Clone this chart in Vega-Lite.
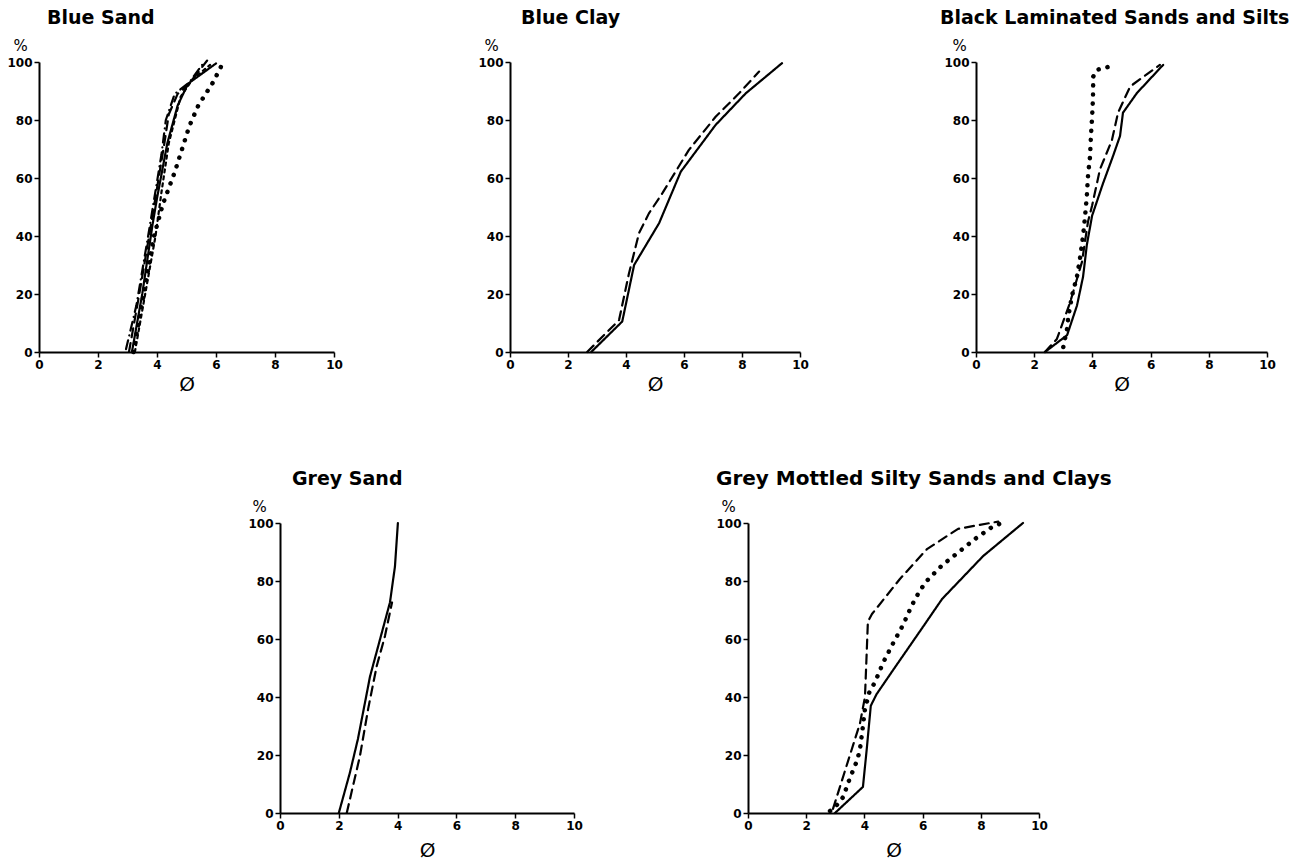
{
  "$schema": "https://vega.github.io/schema/vega-lite/v6.json",
  "background": "white",
  "padding": {"left": 6, "top": 9, "right": 5, "bottom": 5},
  "config": {
    "view": {"stroke": null},
    "axis": {"grid": false, "domainColor": "black", "domainWidth": 2, "tickColor": "black", "tickWidth": 1.5, "tickSize": 5, "labelFont": "DejaVu Sans", "labelFontWeight": "bold", "labelFontSize": 12, "labelColor": "black", "labelPadding": 2, "labelFlush": false, "titleColor": "black", "titleFont": "DejaVu Sans", "titleFontWeight": "normal"},
    "axisX": {"titleFontSize": 20, "titleBaseline": "alphabetic", "titleY": 38},
    "axisY": {"titleAngle": 0, "titleFontSize": 15, "titleX": -19, "titleY": -17, "titleAlign": "center", "titleBaseline": "middle"},
    "title": {"font": "DejaVu Sans", "fontSize": 19, "fontWeight": "bold", "anchor": "start", "frame": "group", "color": "black", "baseline": "alphabetic", "offset": 10},
    "line": {"color": "black", "strokeCap": "round", "strokeJoin": "round", "strokeWidth": 2.2}
  },
  "datasets": {
    "curves": [
      {"panel": "Blue Sand", "series": "s1", "phi": 3.15, "pct": 0},
      {"panel": "Blue Sand", "series": "s1", "phi": 3.5, "pct": 20},
      {"panel": "Blue Sand", "series": "s1", "phi": 3.85, "pct": 44},
      {"panel": "Blue Sand", "series": "s1", "phi": 4.0, "pct": 53},
      {"panel": "Blue Sand", "series": "s1", "phi": 4.35, "pct": 72},
      {"panel": "Blue Sand", "series": "s1", "phi": 4.7, "pct": 85},
      {"panel": "Blue Sand", "series": "s1", "phi": 5.05, "pct": 92.5},
      {"panel": "Blue Sand", "series": "s1", "phi": 6.0, "pct": 99.5},
      {"panel": "Blue Sand", "series": "s2", "phi": 3.05, "pct": 0},
      {"panel": "Blue Sand", "series": "s2", "phi": 3.4, "pct": 20},
      {"panel": "Blue Sand", "series": "s2", "phi": 3.8, "pct": 44},
      {"panel": "Blue Sand", "series": "s2", "phi": 4.25, "pct": 72},
      {"panel": "Blue Sand", "series": "s2", "phi": 4.4, "pct": 82},
      {"panel": "Blue Sand", "series": "s2", "phi": 4.7, "pct": 89},
      {"panel": "Blue Sand", "series": "s2", "phi": 5.05, "pct": 92},
      {"panel": "Blue Sand", "series": "s2", "phi": 5.7, "pct": 100.5},
      {"panel": "Blue Sand", "series": "s3", "phi": 3.2, "pct": 0},
      {"panel": "Blue Sand", "series": "s3", "phi": 3.55, "pct": 20},
      {"panel": "Blue Sand", "series": "s3", "phi": 3.9, "pct": 40},
      {"panel": "Blue Sand", "series": "s3", "phi": 4.2, "pct": 51},
      {"panel": "Blue Sand", "series": "s3", "phi": 4.6, "pct": 62},
      {"panel": "Blue Sand", "series": "s3", "phi": 5.1, "pct": 78},
      {"panel": "Blue Sand", "series": "s3", "phi": 5.4, "pct": 85},
      {"panel": "Blue Sand", "series": "s3", "phi": 5.9, "pct": 93},
      {"panel": "Blue Sand", "series": "s3", "phi": 6.2, "pct": 99},
      {"panel": "Blue Sand", "series": "s4", "phi": 2.95, "pct": 1},
      {"panel": "Blue Sand", "series": "s4", "phi": 3.3, "pct": 16},
      {"panel": "Blue Sand", "series": "s4", "phi": 3.7, "pct": 40},
      {"panel": "Blue Sand", "series": "s4", "phi": 4.15, "pct": 68},
      {"panel": "Blue Sand", "series": "s4", "phi": 4.3, "pct": 80},
      {"panel": "Blue Sand", "series": "s4", "phi": 4.6, "pct": 89},
      {"panel": "Blue Sand", "series": "s4", "phi": 5.1, "pct": 93},
      {"panel": "Blue Sand", "series": "s4", "phi": 5.6, "pct": 100},
      {"panel": "Blue Sand", "series": "s5", "phi": 3.25, "pct": 0},
      {"panel": "Blue Sand", "series": "s5", "phi": 3.6, "pct": 20},
      {"panel": "Blue Sand", "series": "s5", "phi": 3.95, "pct": 40},
      {"panel": "Blue Sand", "series": "s5", "phi": 4.15, "pct": 55},
      {"panel": "Blue Sand", "series": "s5", "phi": 4.4, "pct": 72},
      {"panel": "Blue Sand", "series": "s5", "phi": 4.8, "pct": 88},
      {"panel": "Blue Sand", "series": "s5", "phi": 5.2, "pct": 94},
      {"panel": "Blue Sand", "series": "s5", "phi": 5.8, "pct": 99},

      {"panel": "Blue Clay", "series": "s1", "phi": 2.8, "pct": 0},
      {"panel": "Blue Clay", "series": "s1", "phi": 3.87, "pct": 10.5},
      {"panel": "Blue Clay", "series": "s1", "phi": 4.28, "pct": 30},
      {"panel": "Blue Clay", "series": "s1", "phi": 5.14, "pct": 44.4},
      {"panel": "Blue Clay", "series": "s1", "phi": 5.89, "pct": 62.2},
      {"panel": "Blue Clay", "series": "s1", "phi": 7.09, "pct": 78.3},
      {"panel": "Blue Clay", "series": "s1", "phi": 8.13, "pct": 89.2},
      {"panel": "Blue Clay", "series": "s1", "phi": 9.38, "pct": 99.6},
      {"panel": "Blue Clay", "series": "s2", "phi": 2.66, "pct": 0},
      {"panel": "Blue Clay", "series": "s2", "phi": 3.76, "pct": 11},
      {"panel": "Blue Clay", "series": "s2", "phi": 4.1, "pct": 27},
      {"panel": "Blue Clay", "series": "s2", "phi": 4.45, "pct": 41},
      {"panel": "Blue Clay", "series": "s2", "phi": 4.79, "pct": 47.8},
      {"panel": "Blue Clay", "series": "s2", "phi": 5.25, "pct": 54.7},
      {"panel": "Blue Clay", "series": "s2", "phi": 6.17, "pct": 69.7},
      {"panel": "Blue Clay", "series": "s2", "phi": 7.09, "pct": 81.1},
      {"panel": "Blue Clay", "series": "s2", "phi": 7.9, "pct": 89.2},
      {"panel": "Blue Clay", "series": "s2", "phi": 8.59, "pct": 96.7},

      {"panel": "Black Laminated Sands and Silts", "series": "s1", "phi": 2.37, "pct": 0},
      {"panel": "Black Laminated Sands and Silts", "series": "s1", "phi": 3.13, "pct": 5.8},
      {"panel": "Black Laminated Sands and Silts", "series": "s1", "phi": 3.47, "pct": 16},
      {"panel": "Black Laminated Sands and Silts", "series": "s1", "phi": 3.68, "pct": 26},
      {"panel": "Black Laminated Sands and Silts", "series": "s1", "phi": 3.81, "pct": 37},
      {"panel": "Black Laminated Sands and Silts", "series": "s1", "phi": 3.99, "pct": 47},
      {"panel": "Black Laminated Sands and Silts", "series": "s1", "phi": 4.36, "pct": 58},
      {"panel": "Black Laminated Sands and Silts", "series": "s1", "phi": 4.71, "pct": 67.6},
      {"panel": "Black Laminated Sands and Silts", "series": "s1", "phi": 4.95, "pct": 74.5},
      {"panel": "Black Laminated Sands and Silts", "series": "s1", "phi": 5.05, "pct": 82.5},
      {"panel": "Black Laminated Sands and Silts", "series": "s1", "phi": 5.53, "pct": 89.3},
      {"panel": "Black Laminated Sands and Silts", "series": "s1", "phi": 6.43, "pct": 99},
      {"panel": "Black Laminated Sands and Silts", "series": "s2", "phi": 2.37, "pct": 0},
      {"panel": "Black Laminated Sands and Silts", "series": "s2", "phi": 2.78, "pct": 4.5},
      {"panel": "Black Laminated Sands and Silts", "series": "s2", "phi": 3.23, "pct": 17},
      {"panel": "Black Laminated Sands and Silts", "series": "s2", "phi": 3.64, "pct": 31},
      {"panel": "Black Laminated Sands and Silts", "series": "s2", "phi": 3.85, "pct": 45},
      {"panel": "Black Laminated Sands and Silts", "series": "s2", "phi": 3.99, "pct": 50.5},
      {"panel": "Black Laminated Sands and Silts", "series": "s2", "phi": 4.26, "pct": 63},
      {"panel": "Black Laminated Sands and Silts", "series": "s2", "phi": 4.67, "pct": 73},
      {"panel": "Black Laminated Sands and Silts", "series": "s2", "phi": 4.88, "pct": 82.5},
      {"panel": "Black Laminated Sands and Silts", "series": "s2", "phi": 5.3, "pct": 91.6},
      {"panel": "Black Laminated Sands and Silts", "series": "s2", "phi": 6.32, "pct": 99},
      {"panel": "Black Laminated Sands and Silts", "series": "s3", "phi": 3.0, "pct": 1.7},
      {"panel": "Black Laminated Sands and Silts", "series": "s3", "phi": 3.13, "pct": 8},
      {"panel": "Black Laminated Sands and Silts", "series": "s3", "phi": 3.17, "pct": 12},
      {"panel": "Black Laminated Sands and Silts", "series": "s3", "phi": 3.3, "pct": 19.5},
      {"panel": "Black Laminated Sands and Silts", "series": "s3", "phi": 3.47, "pct": 26},
      {"panel": "Black Laminated Sands and Silts", "series": "s3", "phi": 3.57, "pct": 32},
      {"panel": "Black Laminated Sands and Silts", "series": "s3", "phi": 3.68, "pct": 40},
      {"panel": "Black Laminated Sands and Silts", "series": "s3", "phi": 3.75, "pct": 47},
      {"panel": "Black Laminated Sands and Silts", "series": "s3", "phi": 3.81, "pct": 54},
      {"panel": "Black Laminated Sands and Silts", "series": "s3", "phi": 3.85, "pct": 61},
      {"panel": "Black Laminated Sands and Silts", "series": "s3", "phi": 3.92, "pct": 67.6},
      {"panel": "Black Laminated Sands and Silts", "series": "s3", "phi": 3.95, "pct": 74.5},
      {"panel": "Black Laminated Sands and Silts", "series": "s3", "phi": 3.99, "pct": 81},
      {"panel": "Black Laminated Sands and Silts", "series": "s3", "phi": 4.02, "pct": 87.6},
      {"panel": "Black Laminated Sands and Silts", "series": "s3", "phi": 4.03, "pct": 95},
      {"panel": "Black Laminated Sands and Silts", "series": "s3", "phi": 4.16, "pct": 97.3},
      {"panel": "Black Laminated Sands and Silts", "series": "s3", "phi": 4.43, "pct": 98},
      {"panel": "Black Laminated Sands and Silts", "series": "s3", "phi": 4.81, "pct": 99},

      {"panel": "Grey Sand", "series": "s1", "phi": 2.0, "pct": 0},
      {"panel": "Grey Sand", "series": "s1", "phi": 2.38, "pct": 14},
      {"panel": "Grey Sand", "series": "s1", "phi": 2.65, "pct": 25.5},
      {"panel": "Grey Sand", "series": "s1", "phi": 2.96, "pct": 41.7},
      {"panel": "Grey Sand", "series": "s1", "phi": 3.06, "pct": 47},
      {"panel": "Grey Sand", "series": "s1", "phi": 3.74, "pct": 72.6},
      {"panel": "Grey Sand", "series": "s1", "phi": 3.91, "pct": 85},
      {"panel": "Grey Sand", "series": "s1", "phi": 4.01, "pct": 100},
      {"panel": "Grey Sand", "series": "s2", "phi": 2.27, "pct": 0},
      {"panel": "Grey Sand", "series": "s2", "phi": 2.72, "pct": 19.7},
      {"panel": "Grey Sand", "series": "s2", "phi": 3.0, "pct": 36},
      {"panel": "Grey Sand", "series": "s2", "phi": 3.29, "pct": 50.7},
      {"panel": "Grey Sand", "series": "s2", "phi": 3.57, "pct": 61},
      {"panel": "Grey Sand", "series": "s2", "phi": 3.81, "pct": 72.6},

      {"panel": "Grey Mottled Silty Sands and Clays", "series": "s1", "phi": 2.99, "pct": 0},
      {"panel": "Grey Mottled Silty Sands and Clays", "series": "s1", "phi": 3.95, "pct": 9},
      {"panel": "Grey Mottled Silty Sands and Clays", "series": "s1", "phi": 4.08, "pct": 22},
      {"panel": "Grey Mottled Silty Sands and Clays", "series": "s1", "phi": 4.22, "pct": 37},
      {"panel": "Grey Mottled Silty Sands and Clays", "series": "s1", "phi": 4.42, "pct": 41},
      {"panel": "Grey Mottled Silty Sands and Clays", "series": "s1", "phi": 5.0, "pct": 49.5},
      {"panel": "Grey Mottled Silty Sands and Clays", "series": "s1", "phi": 6.0, "pct": 64},
      {"panel": "Grey Mottled Silty Sands and Clays", "series": "s1", "phi": 6.67, "pct": 73.8},
      {"panel": "Grey Mottled Silty Sands and Clays", "series": "s1", "phi": 8.08, "pct": 88.6},
      {"panel": "Grey Mottled Silty Sands and Clays", "series": "s1", "phi": 9.45, "pct": 100},
      {"panel": "Grey Mottled Silty Sands and Clays", "series": "s2", "phi": 2.92, "pct": 1.4},
      {"panel": "Grey Mottled Silty Sands and Clays", "series": "s2", "phi": 3.85, "pct": 31},
      {"panel": "Grey Mottled Silty Sands and Clays", "series": "s2", "phi": 4.02, "pct": 40},
      {"panel": "Grey Mottled Silty Sands and Clays", "series": "s2", "phi": 4.12, "pct": 66},
      {"panel": "Grey Mottled Silty Sands and Clays", "series": "s2", "phi": 4.26, "pct": 68.6},
      {"panel": "Grey Mottled Silty Sands and Clays", "series": "s2", "phi": 5.22, "pct": 80.7},
      {"panel": "Grey Mottled Silty Sands and Clays", "series": "s2", "phi": 6.15, "pct": 91},
      {"panel": "Grey Mottled Silty Sands and Clays", "series": "s2", "phi": 7.22, "pct": 98},
      {"panel": "Grey Mottled Silty Sands and Clays", "series": "s2", "phi": 8.6, "pct": 100.5},
      {"panel": "Grey Mottled Silty Sands and Clays", "series": "s3", "phi": 2.82, "pct": 0.7},
      {"panel": "Grey Mottled Silty Sands and Clays", "series": "s3", "phi": 3.05, "pct": 2.7},
      {"panel": "Grey Mottled Silty Sands and Clays", "series": "s3", "phi": 3.27, "pct": 5.5},
      {"panel": "Grey Mottled Silty Sands and Clays", "series": "s3", "phi": 3.5, "pct": 12},
      {"panel": "Grey Mottled Silty Sands and Clays", "series": "s3", "phi": 3.72, "pct": 17.4},
      {"panel": "Grey Mottled Silty Sands and Clays", "series": "s3", "phi": 3.84, "pct": 21.4},
      {"panel": "Grey Mottled Silty Sands and Clays", "series": "s3", "phi": 3.93, "pct": 28.4},
      {"panel": "Grey Mottled Silty Sands and Clays", "series": "s3", "phi": 4.02, "pct": 35.9},
      {"panel": "Grey Mottled Silty Sands and Clays", "series": "s3", "phi": 4.18, "pct": 42},
      {"panel": "Grey Mottled Silty Sands and Clays", "series": "s3", "phi": 4.36, "pct": 45},
      {"panel": "Grey Mottled Silty Sands and Clays", "series": "s3", "phi": 4.65, "pct": 52},
      {"panel": "Grey Mottled Silty Sands and Clays", "series": "s3", "phi": 4.99, "pct": 58.6},
      {"panel": "Grey Mottled Silty Sands and Clays", "series": "s3", "phi": 5.33, "pct": 64.9},
      {"panel": "Grey Mottled Silty Sands and Clays", "series": "s3", "phi": 5.62, "pct": 71.4},
      {"panel": "Grey Mottled Silty Sands and Clays", "series": "s3", "phi": 5.9, "pct": 76.6},
      {"panel": "Grey Mottled Silty Sands and Clays", "series": "s3", "phi": 6.14, "pct": 80},
      {"panel": "Grey Mottled Silty Sands and Clays", "series": "s3", "phi": 6.66, "pct": 85.3},
      {"panel": "Grey Mottled Silty Sands and Clays", "series": "s3", "phi": 7.23, "pct": 89.9},
      {"panel": "Grey Mottled Silty Sands and Clays", "series": "s3", "phi": 7.8, "pct": 94.5},
      {"panel": "Grey Mottled Silty Sands and Clays", "series": "s3", "phi": 8.38, "pct": 98.6},
      {"panel": "Grey Mottled Silty Sands and Clays", "series": "s3", "phi": 8.72, "pct": 100}
    ]
  },
  "bounds": "flush",
  "spacing": 461,
  "vconcat": [
    {
      "bounds": "flush",
      "spacing": 176,
      "hconcat": [
        {
          "width": 295, "height": 290,
          "title": {"text": "Blue Sand", "dx": 8},
          "data": {"name": "curves"},
          "transform": [{"filter": "datum.panel === 'Blue Sand'"}],
          "encoding": {
            "x": {"field": "phi", "type": "quantitative", "scale": {"domain": [0, 10], "nice": false}, "axis": {"values": [0, 2, 4, 6, 8, 10], "title": "Ø"}},
            "y": {"field": "pct", "type": "quantitative", "scale": {"domain": [0, 100], "nice": false}, "axis": {"values": [0, 20, 40, 60, 80, 100], "title": "%"}},
            "order": {"field": "pct", "type": "quantitative"}
          },
          "layer": [
            {
              "transform": [{"filter": "datum.series !== 's3'"}],
              "mark": {"type": "line"},
              "encoding": {"strokeDash": {"field": "series", "type": "nominal", "scale": {"domain": ["s1", "s2", "s4", "s5"], "range": [[1, 0], [9, 6], [9, 5, 0.1, 5], [3, 4]]}, "legend": null}}
            },
            {
              "transform": [{"filter": "datum.series === 's3'"}],
              "mark": {"type": "line", "strokeWidth": 4.5, "strokeDash": [0.1, 9], "strokeCap": "round"},
              "encoding": {}
            }
          ]
        },
        {
          "width": 290, "height": 290,
          "title": {"text": "Blue Clay", "dx": 11},
          "data": {"name": "curves"},
          "transform": [{"filter": "datum.panel === 'Blue Clay'"}],
          "encoding": {
            "x": {"field": "phi", "type": "quantitative", "scale": {"domain": [0, 10], "nice": false}, "axis": {"values": [0, 2, 4, 6, 8, 10], "title": "Ø"}},
            "y": {"field": "pct", "type": "quantitative", "scale": {"domain": [0, 100], "nice": false}, "axis": {"values": [0, 20, 40, 60, 80, 100], "title": "%"}},
            "order": {"field": "pct", "type": "quantitative"}
          },
          "layer": [
            {
              "mark": {"type": "line"},
              "encoding": {"strokeDash": {"field": "series", "type": "nominal", "scale": {"domain": ["s1", "s2"], "range": [[1, 0], [9, 6]]}, "legend": null}}
            }
          ]
        },
        {
          "width": 291, "height": 290,
          "title": {"text": "Black Laminated Sands and Silts", "dx": -36},
          "data": {"name": "curves"},
          "transform": [{"filter": "datum.panel === 'Black Laminated Sands and Silts'"}],
          "encoding": {
            "x": {"field": "phi", "type": "quantitative", "scale": {"domain": [0, 10], "nice": false}, "axis": {"values": [0, 2, 4, 6, 8, 10], "title": "Ø"}},
            "y": {"field": "pct", "type": "quantitative", "scale": {"domain": [0, 100], "nice": false}, "axis": {"values": [0, 20, 40, 60, 80, 100], "title": "%", "titleX": -17}},
            "order": {"field": "pct", "type": "quantitative"}
          },
          "layer": [
            {
              "transform": [{"filter": "datum.series !== 's3'"}],
              "mark": {"type": "line"},
              "encoding": {"strokeDash": {"field": "series", "type": "nominal", "scale": {"domain": ["s1", "s2"], "range": [[1, 0], [9, 6]]}, "legend": null}}
            },
            {
              "transform": [{"filter": "datum.series === 's3'"}],
              "mark": {"type": "line", "strokeWidth": 4.5, "strokeDash": [0.1, 9], "strokeCap": "round"},
              "encoding": {}
            }
          ]
        }
      ]
    },
    {
      "bounds": "flush",
      "spacing": 174,
      "hconcat": [
        {
          "width": 67, "height": 290,
          "data": {"values": [{}]},
          "mark": {"type": "point", "opacity": 0}
        },
        {
          "width": 294, "height": 290,
          "title": {"text": "Grey Sand", "dx": 12},
          "data": {"name": "curves"},
          "transform": [{"filter": "datum.panel === 'Grey Sand'"}],
          "encoding": {
            "x": {"field": "phi", "type": "quantitative", "scale": {"domain": [0, 10], "nice": false}, "axis": {"values": [0, 2, 4, 6, 8, 10], "title": "Ø", "titleY": 43}},
            "y": {"field": "pct", "type": "quantitative", "scale": {"domain": [0, 100], "nice": false}, "axis": {"values": [0, 20, 40, 60, 80, 100], "title": "%", "titleX": -21}},
            "order": {"field": "pct", "type": "quantitative"}
          },
          "layer": [
            {
              "mark": {"type": "line"},
              "encoding": {"strokeDash": {"field": "series", "type": "nominal", "scale": {"domain": ["s1", "s2"], "range": [[1, 0], [9, 6]]}, "legend": null}}
            }
          ]
        },
        {
          "width": 291, "height": 290,
          "title": {"text": "Grey Mottled Silty Sands and Clays", "dx": -32, "fontSize": 20},
          "data": {"name": "curves"},
          "transform": [{"filter": "datum.panel === 'Grey Mottled Silty Sands and Clays'"}],
          "encoding": {
            "x": {"field": "phi", "type": "quantitative", "scale": {"domain": [0, 10], "nice": false}, "axis": {"values": [0, 2, 4, 6, 8, 10], "title": "Ø", "titleY": 43}},
            "y": {"field": "pct", "type": "quantitative", "scale": {"domain": [0, 100], "nice": false}, "axis": {"values": [0, 20, 40, 60, 80, 100], "title": "%", "titleX": -20}},
            "order": {"field": "pct", "type": "quantitative"}
          },
          "layer": [
            {
              "transform": [{"filter": "datum.series !== 's3'"}],
              "mark": {"type": "line"},
              "encoding": {"strokeDash": {"field": "series", "type": "nominal", "scale": {"domain": ["s1", "s2"], "range": [[1, 0], [9, 6]]}, "legend": null}}
            },
            {
              "transform": [{"filter": "datum.series === 's3'"}],
              "mark": {"type": "line", "strokeWidth": 4.5, "strokeDash": [0.1, 9], "strokeCap": "round"},
              "encoding": {}
            }
          ]
        }
      ]
    }
  ]
}
